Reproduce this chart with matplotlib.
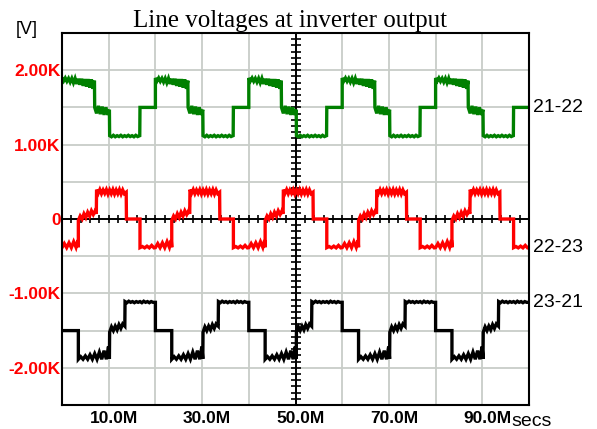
"""Line voltages at the inverter output (three stacked line-to-line traces)."""

import matplotlib
matplotlib.use("Agg")
import matplotlib.pyplot as plt
from matplotlib.transforms import ScaledTranslation
import numpy as np

# One 20 ms period of each trace (t in ms, V)
PERIOD_MS = 20.0
N_PERIODS = 5

GREEN_T = [0.0, 0.35, 0.7, 1.05, 1.4, 1.75, 2.1, 2.45, 2.8, 3.15, 3.5, 3.85,
           4.2, 4.55, 4.9, 5.25, 5.6, 5.95, 6.3, 6.65, 6.95,
           7.0, 7.4, 7.8, 8.2, 8.6, 9.0, 9.4, 9.8, 10.15,
           10.2, 10.6, 11.0, 11.4, 11.8, 12.2, 12.6, 13.0, 13.4, 13.8, 14.2,
           14.6, 15.0, 15.4, 15.8, 16.2, 16.65, 16.7, 20.0]
GREEN_V = [1895, 1855, 1895, 1850, 1890, 1840, 1890, 1830, 1890, 1815, 1885, 1805,
           1885, 1790, 1880, 1780, 1880, 1765, 1875, 1750, 1860,
           1500, 1420, 1520, 1410, 1510, 1400, 1500, 1400, 1470,
           1120, 1105, 1125, 1105, 1120, 1108, 1125, 1105, 1120, 1108, 1125,
           1108, 1120, 1105, 1125, 1108, 1120, 1500, 1500]

RED_T = [0.0, 0.5, 1.0, 1.5, 2.0, 2.5, 3.0, 3.4, 3.5,
         3.5, 3.9, 4.3, 4.7, 5.1, 5.5, 5.9, 6.3, 6.7, 7.1, 7.35,
         7.4, 7.75, 8.1, 8.45, 8.8, 9.15, 9.5, 9.85, 10.2, 10.55, 10.9, 11.25,
         11.6, 11.95, 12.3, 12.65, 13.0, 13.35, 13.75,
         13.8, 16.7,
         16.7, 17.2, 17.7, 18.2, 18.7, 19.2, 19.7, 20.0]
RED_V = [-385, -330, -385, -320, -385, -305, -380, -285, -380,
         -20, 40, 0, 70, 20, 90, 40, 110, 60, 110, 70,
         395, 345, 395, 340, 390, 345, 395, 335, 390, 340, 395, 335,
         390, 340, 395, 335, 390, 340, 360,
         0, 0,
         -385, -370, -388, -365, -388, -355, -388, -385]

BLACK_T = [0.0, 3.5,
           3.5, 4.0, 4.5, 5.0, 5.5, 6.0, 6.5, 7.0, 7.5, 8.0, 8.5, 9.0, 9.5,
           9.95, 10.15,
           10.2, 10.6, 11.0, 11.4, 11.8, 12.2, 12.6, 13.0, 13.45,
           13.5, 13.9, 14.3, 14.7, 15.1, 15.5, 15.9, 16.3, 16.7, 17.1, 17.5,
           17.9, 18.3, 18.7, 19.1, 19.5, 20.0]
BLACK_V = [-1500, -1500,
           -1885, -1850, -1885, -1840, -1885, -1825, -1885, -1810, -1885, -1790,
           -1885, -1770, -1885, -1715, -1880,
           -1520, -1450, -1500, -1440, -1490, -1420, -1470, -1410, -1440,
           -1110, -1125, -1105, -1120, -1110, -1125, -1110, -1120, -1110, -1125,
           -1105, -1120, -1110, -1125, -1110, -1120, -1120]

TRACE_NAMES = ["21-22", "22-23", "23-21"]
TRACE_COLORS = ["#008000", "#ff0000", "#000000"]

Y_TICKS = [2000, 1000, 0, -1000, -2000]
Y_TICK_LABELS = ["2.00K", "1.00K", "0", "-1.00K", "-2.00K"]
X_TICKS = [10, 30, 50, 70, 90]
X_TICK_LABELS = ["10.0M", "30.0M", "50.0M", "70.0M", "90.0M"]

SANS = "Liberation Sans"
SERIF = "Liberation Serif"


def tile_period(t, v):
    """Repeat one period of samples over the whole record."""
    t = np.asarray(t, dtype=float)
    ts = np.concatenate([t + k * PERIOD_MS for k in range(N_PERIODS)])
    vs = np.tile(np.asarray(v, dtype=float), N_PERIODS)
    return ts, vs


def create_chart(output_path="out.png"):
    fig = plt.figure(figsize=(5.97, 4.29), dpi=100)
    ax = fig.add_axes([62 / 597, 24 / 429, 467 / 597, 372 / 429])

    x_max = PERIOD_MS * N_PERIODS
    ax.set_xlim(0, x_max)
    ax.set_ylim(-2500, 2500)

    # light grid every 10 ms / 500 V
    for gx in np.arange(10, x_max, 10):
        ax.axvline(gx, color="#c8cdc8", lw=1.3, zorder=1)
    for gy in np.arange(-2000, 2001, 500):
        ax.axhline(gy, color="#c8cdc8", lw=1.3, zorder=1)

    # crossing centre axes with small ticks
    ax.axhline(0, color="black", lw=1.4, zorder=2)
    ax.axvline(x_max / 2, color="black", lw=1.4, zorder=2)
    xt = np.arange(0, x_max + 0.01, 2.0)
    ax.plot(xt, np.zeros_like(xt), ls="none", marker="|", ms=6, mew=1.2,
            color="black", zorder=2, clip_on=False)
    yt = np.arange(-2500, 2500.1, 500 / 6)
    ax.plot(np.full_like(yt, x_max / 2), yt, ls="none", marker="_", ms=7,
            mew=1.2, color="black", zorder=2)

    traces = [(GREEN_T, GREEN_V), (RED_T, RED_V), (BLACK_T, BLACK_V)]
    for (t, v), name, color in zip(traces, TRACE_NAMES, TRACE_COLORS):
        ts, vs = tile_period(t, v)
        ax.plot(ts, vs, color=color, lw=2.4, zorder=3, solid_joinstyle="miter")
        # name written at the trace's final value, outside the frame
        ax.text(1.008, vs[-1], name, transform=ax.get_yaxis_transform(),
                ha="left", va="center", fontsize=14, family=SANS)

    for s in ax.spines.values():
        s.set_linewidth(1.5)
        s.set_color("black")
        s.set_zorder(4)

    ax.set_yticks(Y_TICKS)
    ax.set_yticklabels(Y_TICK_LABELS, color="red", fontweight="bold",
                       fontsize=12.5, family=SANS)
    ax.set_xticks(X_TICKS)
    ax.set_xticklabels(X_TICK_LABELS, color="black", fontweight="bold",
                       fontsize=12.5, family=SANS)
    ax.tick_params(axis="both", length=0)
    ax.tick_params(axis="y", pad=1)
    ax.tick_params(axis="x", pad=4.5)
    # labels sit a few pixels right of their grid line
    for lbl in ax.get_xticklabels():
        lbl.set_transform(lbl.get_transform()
                          + ScaledTranslation(5 / 100, 0, fig.dpi_scale_trans))

    fig.text(511 / 597, 1 - 421 / 429, "secs", ha="left", va="center",
             fontsize=14, family=SANS)
    fig.text(16 / 597, 1 - 30 / 429, "[V]", ha="left", va="center",
             fontsize=13, family=SANS)
    fig.text(290 / 597, 1 - 27 / 429, "Line voltages at inverter output",
             ha="center", va="baseline", fontsize=18, family=SERIF)

    fig.savefig(output_path, dpi=100)
    return fig


def main():
    create_chart()


if __name__ == "__main__":
    main()
